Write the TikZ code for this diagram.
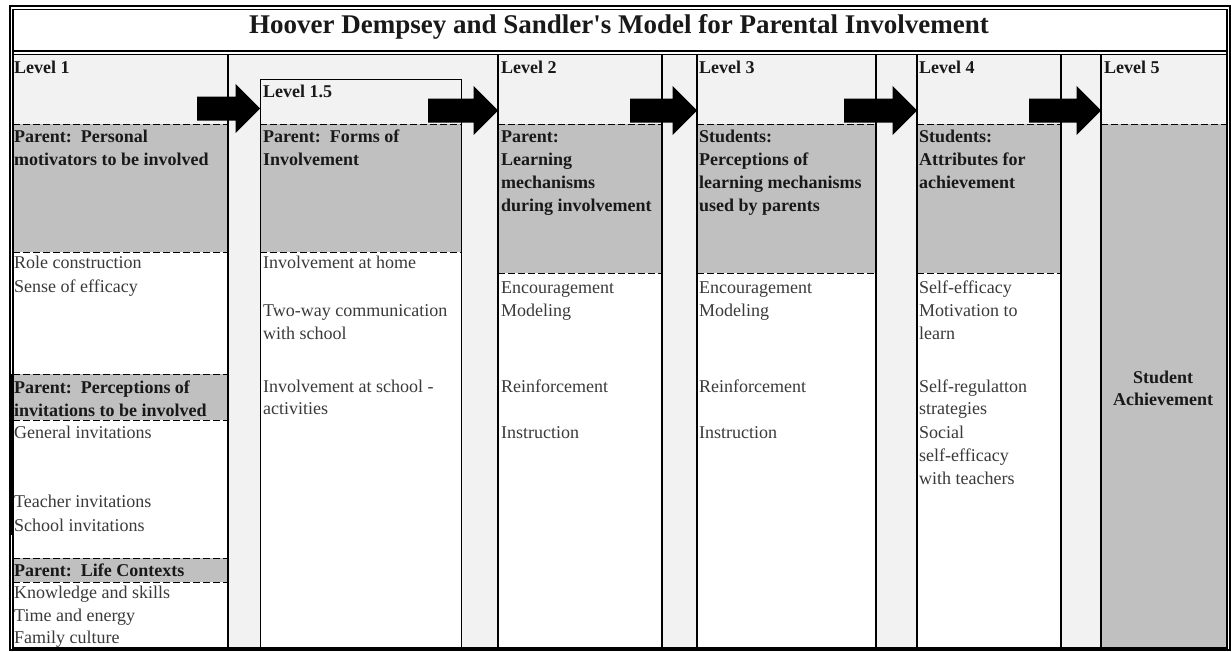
\documentclass[tikz,border=0pt]{standalone}
\usepackage{fontspec}
\setmainfont{Liberation Serif}
\usetikzlibrary{calc}
\definecolor{bglight}{HTML}{F2F2F2}
\definecolor{cellgray}{HTML}{C0C0C0}
\definecolor{txtgray}{HTML}{3A3A3A}
\tikzset{
  txt/.style={inner sep=0pt, anchor=base west, font=\fontsize{18}{23}\selectfont, text=txtgray},
  head/.style={inner sep=0pt, anchor=base west, font=\fontsize{18}{23}\selectfont\bfseries, text=black!90},
  colline/.style={draw=black, line width=1.3pt},
  boxline/.style={draw=black, line width=1pt},
  dashline/.style={draw=black, line width=1pt, dash pattern=on 7pt off 3pt},
  frameline/.style={draw=black, line width=1.2pt},
  arrowfill/.style={fill=black},
}
\newcommand\blockarrow[2]{\fill[arrowfill] ($(#1)+(0,-12)$) -- ($(#2)+(-24.5,-12)$) -- ($(#2)+(-24.5,-24.5)$) -- (#2) -- ($(#2)+(-24.5,24.5)$) -- ($(#2)+(-24.5,12)$) -- ($(#1)+(0,12)$) -- cycle;}
\begin{document}
\begin{tikzpicture}[x=1pt,y=-1pt]
\useasboundingbox (0,0) rectangle (1231,651);
\fill[white] (0,0) rectangle (1231,651);
% backgrounds
\fill[bglight] (13,55) rectangle (1227,648);
% Level 1
\fill[cellgray] (13,124) rectangle (228,252);
\fill[white] (13,252) rectangle (228,374);
\fill[cellgray] (13,374) rectangle (228,420);
\fill[white] (13,420) rectangle (228,558);
\fill[cellgray] (13,558) rectangle (228,582);
\fill[white] (13,582) rectangle (228,648);
% Level 1.5
\fill[cellgray] (260,124) rectangle (461,252);
\fill[white] (260,252) rectangle (461,648);
% Level 2
\fill[cellgray] (498,124) rectangle (662,273);
\fill[white] (498,273) rectangle (662,648);
% Level 3
\fill[cellgray] (697,124) rectangle (876,273);
\fill[white] (697,273) rectangle (876,648);
% Level 4
\fill[cellgray] (917,124) rectangle (1061,273);
\fill[white] (917,273) rectangle (1061,648);
% Level 5
\fill[cellgray] (1101,124) rectangle (1227,648);
% dashed separators
\foreach \y in {124,252,374,420,558,582} \draw[dashline] (13,\y) -- (228,\y);
\foreach \y in {124,252} \draw[dashline] (260,\y) -- (461,\y);
\foreach \y in {124,273} {
  \draw[dashline] (498,\y) -- (662,\y);
  \draw[dashline] (697,\y) -- (876,\y);
  \draw[dashline] (917,\y) -- (1061,\y);
}
\draw[dashline] (1101,124) -- (1227,124);
% column lines
\foreach \x in {228,498,662,697,876,917,1061,1101} \draw[colline] (\x,55) -- (\x,648);
\draw[boxline] (260,648) -- (260,79) -- (461,79) -- (461,648);
% frame
\draw[frameline] (10,6) rectangle (1230,650);
\draw[frameline] (13,9.5) rectangle (1227,648);
\draw[frameline] (13,51) -- (1227,51);
\draw[frameline] (13,54.5) -- (1227,54.5);
\fill[black] (9,374) rectangle (13,535);
% title
\node[inner sep=0pt, anchor=base, font=\fontsize{27}{32}\selectfont\bfseries, text=black!90] (title) at (619,33) {Hoover Dempsey and Sandler\textquotesingle s Model for Parental Involvement};
% Level 1
\node[head] (h1) at (14,73) {Level 1};
\node[head] (p1a) at (14,142) {Parent:\ \ Personal};
\node[head] (p1b) at (14,165) {motivators to be involved};
\node[txt] (r1a) at (14,268) {Role construction};
\node[txt] (r1b) at (14,292) {Sense of efficacy};
\node[head] (p2a) at (14,393) {Parent:\ \ Perceptions of};
\node[head] (p2b) at (14,416) {invitations to be involved};
\node[txt] (g1a) at (14,438) {General invitations};
\node[txt] (g1b) at (14,507) {Teacher invitations};
\node[txt] (g1c) at (14,531) {School invitations};
\node[head] (p3a) at (14,576) {Parent:\ \ Life Contexts};
\node[txt] (k1a) at (14,598) {Knowledge and skills};
\node[txt] (k1b) at (14,621) {Time and energy};
\node[txt] (k1c) at (14,643.5) {Family culture};
% Level 1.5
\node[head] (h15) at (263,97) {Level 1.5};
\node[head] (f1a) at (263,142) {Parent:\ \ Forms of};
\node[head] (f1b) at (263,165) {Involvement};
\node[txt] (i1a) at (263,268) {Involvement at home};
\node[txt] (i1b) at (263,316) {Two-way communication};
\node[txt] (i1c) at (263,339) {with school};
\node[txt] (i1d) at (263,392) {Involvement at school -};
\node[txt] (i1e) at (263,414) {activities};
% Level 2
\node[head] (h2) at (501,73) {Level 2};
\node[head] (m2a) at (501,142) {Parent:};
\node[head] (m2b) at (501,165) {Learning};
\node[head] (m2c) at (501,188) {mechanisms};
\node[head] (m2d) at (501,211) {during involvement};
\node[txt] (e2a) at (501,293) {Encouragement};
\node[txt] (e2b) at (501,316) {Modeling};
\node[txt] (e2c) at (501,392) {Reinforcement};
\node[txt] (e2d) at (501,438) {Instruction};
% Level 3
\node[head] (h3) at (699,73) {Level 3};
\node[head] (m3a) at (699,142) {Students:};
\node[head] (m3b) at (699,165) {Perceptions of};
\node[head] (m3c) at (699,188) {learning mechanisms};
\node[head] (m3d) at (699,211) {used by parents};
\node[txt] (e3a) at (699,293) {Encouragement};
\node[txt] (e3b) at (699,316) {Modeling};
\node[txt] (e3c) at (699,392) {Reinforcement};
\node[txt] (e3d) at (699,438) {Instruction};
% Level 4
\node[head] (h4) at (919,73) {Level 4};
\node[head] (m4a) at (919,142) {Students:};
\node[head] (m4b) at (919,165) {Attributes for};
\node[head] (m4c) at (919,188) {achievement};
\node[txt] (s4a) at (919,293) {Self-efficacy};
\node[txt] (s4b) at (919,316) {Motivation to};
\node[txt] (s4c) at (919,339) {learn};
\node[txt] (s4d) at (919,392) {Self-regulatton};
\node[txt] (s4e) at (919,414) {strategies};
\node[txt] (s4f) at (919,438) {Social};
\node[txt] (s4g) at (919,461) {self-efficacy};
\node[txt] (s4h) at (919,484) {with teachers};
% Level 5
\node[head] (h5) at (1104,73) {Level 5};
\node[head, anchor=base] (sa1) at (1163,383) {Student};
\node[head, anchor=base] (sa2) at (1163,405) {Achievement};
% arrows
\coordinate (a1s) at (197,108.5); \coordinate (a1e) at (260,108.5);
\coordinate (a2s) at (428,110.5); \coordinate (a2e) at (498,110.5);
\coordinate (a3s) at (630,110.5); \coordinate (a3e) at (697,110.5);
\coordinate (a4s) at (844,110.5); \coordinate (a4e) at (917,110.5);
\coordinate (a5s) at (1029,110.5); \coordinate (a5e) at (1101,110.5);
\blockarrow{a1s}{a1e}
\blockarrow{a2s}{a2e}
\blockarrow{a3s}{a3e}
\blockarrow{a4s}{a4e}
\blockarrow{a5s}{a5e}
\end{tikzpicture}
\end{document}
